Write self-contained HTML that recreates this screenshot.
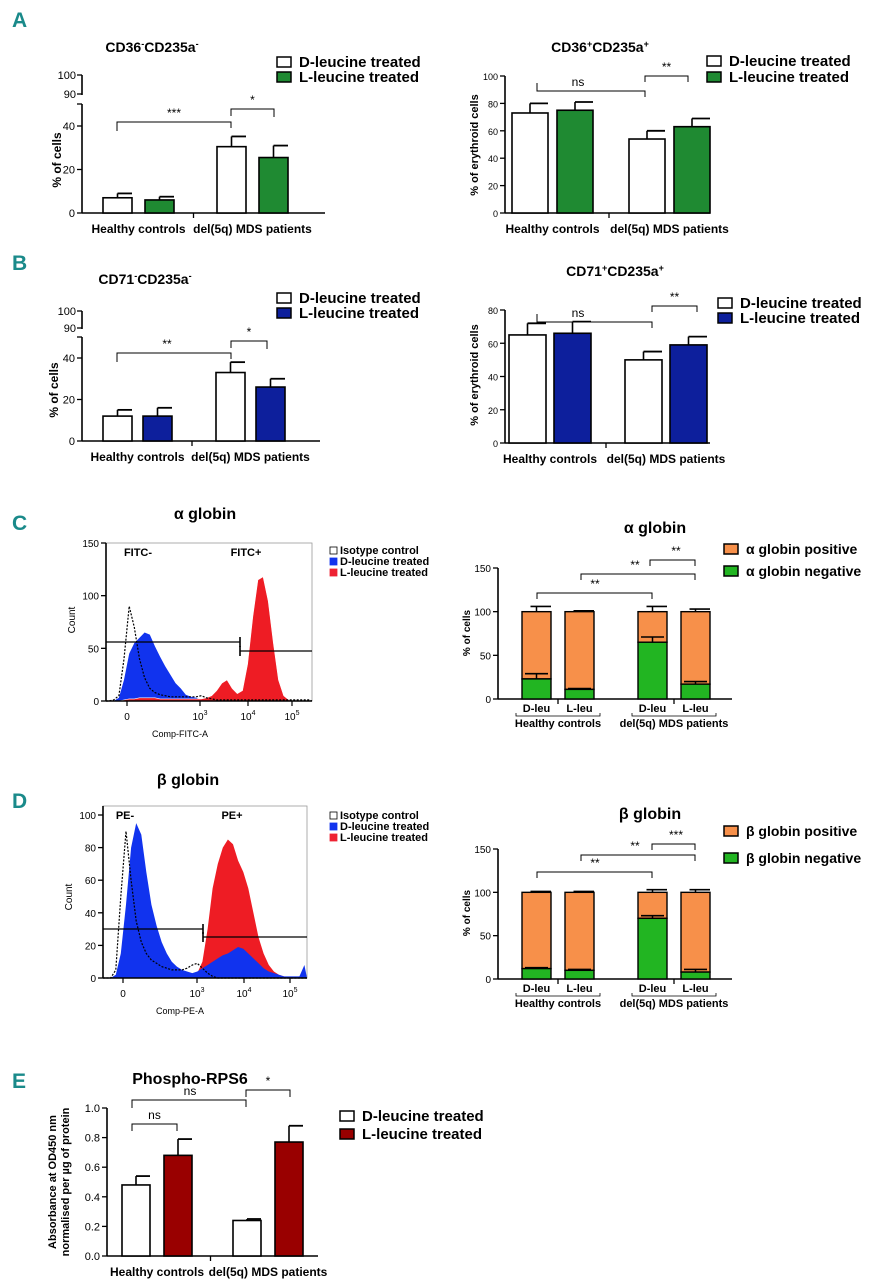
<!DOCTYPE html>
<html><head><meta charset="utf-8"><style>
html,body{margin:0;padding:0;background:#fff;}
svg{display:block;font-family:"Liberation Sans",Arial,sans-serif;}
.b{font-weight:bold;}
</style></head><body>
<svg id="fig" width="877" height="1280" viewBox="0 0 877 1280" xmlns="http://www.w3.org/2000/svg">
<g font-family="Liberation Sans Narrow, Liberation Sans, sans-serif" font-weight="bold" fill="#1a8a8a" font-size="21">
<text x="12" y="27">A</text>
<text x="12" y="270">B</text>
<text x="12" y="530">C</text>
<text x="12" y="808">D</text>
<text x="12" y="1088">E</text>
</g>
<g id="root"></g>
</svg>
<script>
// ---- data ----
const groups = ["Healthy controls", "del(5q) MDS patients"];
const aLeftVals = [[7, 6], [30.5, 25.5]];
const aLeftErr = [[9, 7.5], [35.2, 31]];
const aRightVals = [[73, 75], [54, 63]];
const aRightErr = [[80, 81], [60, 69]];
const bLeftVals = [[12, 12], [33, 26]];
const bLeftErr = [[15, 16], [38, 30]];
const bRightVals = [[65, 66], [50, 59]];
const bRightErr = [[72, 73], [55, 64]];
const alphaNeg = [23, 11, 65, 17];
const alphaNegErr = [29, 12, 71, 20];
const alphaPosErr = [106, 101, 106, 103];
const betaNeg = [12, 10, 70, 8];
const betaNegErr = [13, 11, 73, 11];
const betaPosErr = [101, 101, 103, 103];
const rpsVals = [[0.48, 0.68], [0.24, 0.77]];
const rpsErr = [[0.54, 0.79], [0.25, 0.88]];
const cBlue = [0,0,3,20,45,55,60,65,63,52,42,33,25,17,12,6,4,3,1,0,0,0,0,0,0,0,0,0,0,0,0,0,0,0,0,0,0,0,0,0];
const cRed = [0,0,0,1,2,2,3,3,3,3,2,2,2,2,2,2,2,2,2,3,5,10,17,20,12,7,10,35,80,115,118,95,55,20,5,1,0,0,0,0];
const cIso = [0,1,5,40,90,70,40,22,12,8,6,5,4,4,4,4,4,4,5,3,2,1,1,1,1,1,1,1,1,1,1,1,1,1,1,1,1,1,1,1];
const dBlue = [0,0,2,15,45,80,95,88,65,45,32,22,15,10,7,5,4,3,4,6,8,10,12,14,15,17,19,18,15,12,9,6,4,3,2,1,1,1,1,8];
const dRed = [0,0,0,0,0,0,0,0,0,0,0,0,0,0,0,0,0,1,3,10,30,55,70,80,85,82,72,65,55,40,25,15,8,4,2,1,0,0,0,0];
const dIso = [0,0,5,50,90,60,35,22,15,11,9,7,6,5,5,5,6,8,9,6,3,1,0,0,0,0,0,0,0,0,0,0,0,0,0,0,0,0,0,0];

const NS = "http://www.w3.org/2000/svg";
const root = document.getElementById('root');
function el(tag, attrs, parent, txt) {
  const e = document.createElementNS(NS, tag);
  for (const k in attrs) e.setAttribute(k, attrs[k]);
  if (txt !== undefined) e.textContent = txt;
  (parent || root).appendChild(e);
  return e;
}
function txt(x, y, s, size, anchor, parent, bold, name) {
  const t = el('text', {x: x, y: y, 'font-size': size, 'text-anchor': anchor || 'start', 'font-weight': bold === false ? 'normal' : 'bold'}, parent, s);
  
  
  return t;
}
function line(x1, y1, x2, y2, parent, w) {
  return el('line', {x1: x1, y1: y1, x2: x2, y2: y2, stroke: '#000', 'stroke-width': w || 1.3}, parent);
}
function yAxis(g, ax, y0, ppu, top, ticks, labels, fs) {
  line(ax, y0, ax, top, g, 1.6);
  ticks.forEach((t, i) => {
    const y = y0 - t * ppu;
    line(ax - 5, y, ax, y, g, 1.3);
    txt(ax - 7, y + 4, labels[i], fs || 11, 'end', g, false, 'y-tick-label');
  });
}
function bracket(g, x1, x2, y, d1, d2, label, lx) {
  el('polyline', {points: `${x1},${y + d1} ${x1},${y} ${x2},${y} ${x2},${y + d2}`, fill: 'none', stroke: '#000', 'stroke-width': 1}, g);
  txt(lx !== undefined ? lx : (x1 + x2) / 2, y - 5, label, 12, 'middle', g, false, 'significance-label');
}
function legendBars(g, x, y, gap, labels, fills, fs) {
  labels.forEach((l, i) => {
    const r = el('rect', {x: x, y: y + i * gap, width: 14, height: 10, fill: fills[i], stroke: '#000', 'stroke-width': 1.5}, g);
    
    
    txt(x + 22, y + i * gap + 10, l, fs || 15, 'start', g, true, 'legend-entry');
  });
}
function groupedBars(g, o, vals, errs) {
  // baseline
  line(o.ax, o.y0, o.xEnd, o.y0, g, 1.6);
  line(o.gx + o.gg - (o.gg - o.bg - o.bw) / 2 - 2, o.y0, o.gx + o.gg - (o.gg - o.bg - o.bw) / 2 - 2, o.y0 + 5, g, 1.3);
  vals.forEach((pair, gi) => {
    pair.forEach((v, j) => {
      const x = o.gx + gi * o.gg + j * o.bg;
      const cx = x + o.bw / 2;
      const ey = o.y0 - errs[gi][j] * o.ppu;
      line(cx, o.y0 - v * o.ppu, cx, ey, g, 1.6);
      line(cx, ey, x + o.bw, ey, g, 1.8);
      const r = el('rect', {x: x, y: o.y0 - v * o.ppu, width: o.bw, height: v * o.ppu, fill: o.colors[j], stroke: '#000', 'stroke-width': 1.6}, g);
      
      
    });
    const center = o.gx + gi * o.gg + (o.bg + o.bw) / 2;
    txt(center, o.y0 + 20, groups[gi], 12, 'middle', g, true, 'x-category-label');
  });
}
function stacked(g, o, neg, negErr, posErr, legendLabels) {
  line(o.ax, o.y0, o.xEnd, o.y0, g, 1.6);
  const cats = ['D-leu', 'L-leu', 'D-leu', 'L-leu'];
  neg.forEach((v, i) => {
    const gi = Math.floor(i / 2), j = i % 2;
    const x = o.gx + gi * o.gg + j * o.bg;
    const cx = x + o.bw / 2;
    const py = o.y0 - posErr[i] * o.ppu;
    line(cx, o.y0 - 100 * o.ppu, cx, py, g, 1.5);
    line(cx - 6, py, x + o.bw, py, g, 1.6);
    const rp = el('rect', {x: x, y: o.y0 - 100 * o.ppu, width: o.bw, height: (100 - v) * o.ppu, fill: '#f7904a', stroke: '#000', 'stroke-width': 1.4}, g);
    
    
    const rn = el('rect', {x: x, y: o.y0 - v * o.ppu, width: o.bw, height: v * o.ppu, fill: '#22b522', stroke: '#000', 'stroke-width': 1.4}, g);
    
    
    const ny = o.y0 - negErr[i] * o.ppu;
    line(cx, o.y0 - v * o.ppu, cx, ny, g, 1.5);
    line(x + 3, ny, x + o.bw - 3, ny, g, 1.6);
    txt(cx, o.y0 + 13, cats[i], 11, 'middle', g, true, 'x-category-label');
    if (j === 0) {
      const x2 = x + o.bg + o.bw;
      el('polyline', {points: `${x - 6},${o.y0 + 14} ${x - 6},${o.y0 + 17} ${x2 + 6},${o.y0 + 17} ${x2 + 6},${o.y0 + 14}`, fill: 'none', stroke: '#000', 'stroke-width': 0.8}, g);
      txt((x + x2) / 2, o.y0 + 28, groups[gi], 11, 'middle', g, true, 'x-group-label');
    }
  });
  line(o.gx + o.bw + (o.bg - o.bw) / 2, o.y0, o.gx + o.bw + (o.bg - o.bw) / 2, o.y0 + 5, g, 1.3);
  line(o.gx + o.gg + o.bw + (o.bg - o.bw) / 2, o.y0, o.gx + o.gg + o.bw + (o.bg - o.bw) / 2, o.y0 + 5, g, 1.3);
}
function histArea(g, o, counts, style, name) {
  const n = counts.length, bw = (o.x1 - o.x0) / n;
  let d = `M${o.x0},${o.y0}`;
  counts.forEach((c, i) => { d += ` L${(o.x0 + bw * (i + 0.5)).toFixed(1)},${(o.y0 - c * o.ppu).toFixed(1)}`; });
  d += ` L${o.x1},${o.y0}` + (style.fill !== 'none' ? ' Z' : '');
  const p = el('path', Object.assign({d: d}, style), g);
  
  
}
function histogram(g, o, layers, yt, yl, xt) {
  el('rect', {x: o.x0, y: o.top, width: o.x1 - o.x0, height: o.y0 - o.top, fill: 'none', stroke: '#999', 'stroke-width': 0.8}, g);
  layers.forEach(L => histArea(g, o, L[0], L[1], L[2]));
  yAxis(g, o.x0, o.y0, o.ppu, o.top, yt, yl, 10);
  line(o.x0, o.y0, o.x1, o.y0, g, 1.4);
  xt.forEach(t => {
    line(t[0], o.y0, t[0], o.y0 + 5, g, 1.2);
    const tt = txt(t[0], o.y0 + 19, t[1], 10, 'middle', g, false, 'x-tick-label');
    if (t[2]) el('tspan', {dy: -5, 'font-size': 7}, tt, t[2]);
  });
}
function histLegend(g, x, y) {
  const items = [['Isotype control', '#fff'], ['D-leucine treated', '#1133ee'], ['L-leucine treated', '#ee2233']];
  items.forEach((it, i) => {
    const r = el('rect', {x: x, y: y + i * 11 - 7, width: 7, height: 7, fill: it[1], stroke: i ? it[1] : '#000', 'stroke-width': 0.8}, g);
    
    
    txt(x + 10, y + i * 11, it[0], 11, 'start', g, true, 'legend-entry');
  });
}
function yTitle(g, x, y, s, fs) {
  const t = txt(0, 0, s, fs || 11, 'middle', g, true, 'y-axis-title');
  t.setAttribute('transform', `translate(${x},${y}) rotate(-90)`);
}
function mk(name) {
  const g = el('g', {});
  
  
  return g;
}

// ---- Panel A left ----
let g = mk('chart-cd36neg');
txt(152, 52, 'CD36', 14, 'middle', g);
g.lastChild.textContent = '';
{ const t = g.lastChild; t.textContent = 'CD36'; el('tspan', {dy: -5, 'font-size': 9}, t, '-'); el('tspan', {dy: 5}, t, 'CD235a'); el('tspan', {dy: -5, 'font-size': 9}, t, '-'); }
line(82, 75, 82, 95, g, 1.6); line(77, 75, 82, 75, g); line(77, 94, 82, 94, g);
txt(76, 79, '100', 11, 'end', g, false, 'y-tick-label'); txt(76, 98, '90', 11, 'end', g, false, 'y-tick-label');
yAxis(g, 82, 213, 2.175, 104, [0, 20, 40], ['0', '20', '40']); line(77, 104, 82, 104, g);
groupedBars(g, {ax: 82, y0: 213, ppu: 2.175, gx: 103, gg: 114, bg: 42, bw: 29, xEnd: 325, colors: ['#fff', '#1f8a32']}, aLeftVals, aLeftErr);
yTitle(g, 61, 160, '% of cells', 12);
bracket(g, 117, 231, 122, 9, 6, '***', 174);
bracket(g, 231, 274, 109, 7, 8, '*');
legendBars(g, 277, 57, 15, ['D-leucine treated', 'L-leucine treated'], ['#fff', '#1f8a32']);

// ---- Panel A right ----
g = mk('chart-cd36pos');
{ const t = txt(600, 52, 'CD36', 14, 'middle', g); el('tspan', {dy: -5, 'font-size': 9}, t, '+'); el('tspan', {dy: 5}, t, 'CD235a'); el('tspan', {dy: -5, 'font-size': 9}, t, '+'); }
yAxis(g, 505, 213, 1.37, 76, [0, 20, 40, 60, 80, 100], ['0', '20', '40', '60', '80', '100'], 9);
groupedBars(g, {ax: 505, y0: 213, ppu: 1.37, gx: 512, gg: 117, bg: 45, bw: 36, xEnd: 710, colors: ['#fff', '#1f8a32']}, aRightVals, aRightErr);
yTitle(g, 478, 145, '% of erythroid cells', 11);
bracket(g, 537, 645, 91, -8, 6, 'ns', 578);
bracket(g, 645, 688, 76, 6, 6, '**');
legendBars(g, 707, 56, 16, ['D-leucine treated', 'L-leucine treated'], ['#fff', '#1f8a32']);

// ---- Panel B left ----
g = mk('chart-cd71neg');
{ const t = txt(145, 284, 'CD71', 14, 'middle', g); el('tspan', {dy: -5, 'font-size': 9}, t, '-'); el('tspan', {dy: 5}, t, 'CD235a'); el('tspan', {dy: -5, 'font-size': 9}, t, '-'); }
line(82, 311, 82, 329, g, 1.6); line(77, 311, 82, 311, g); line(77, 328, 82, 328, g);
txt(76, 315, '100', 11, 'end', g, false, 'y-tick-label'); txt(76, 332, '90', 11, 'end', g, false, 'y-tick-label');
yAxis(g, 82, 441, 2.075, 337, [0, 20, 40], ['0', '20', '40']); line(77, 337, 82, 337, g);
groupedBars(g, {ax: 82, y0: 441, ppu: 2.075, gx: 103, gg: 113, bg: 40, bw: 29, xEnd: 320, colors: ['#fff', '#0d1f9c']}, bLeftVals, bLeftErr);
yTitle(g, 58, 390, '% of cells', 12);
bracket(g, 117, 231, 353, 9, 6, '**', 167);
bracket(g, 231, 267, 341, 7, 8, '*');
legendBars(g, 277, 293, 15, ['D-leucine treated', 'L-leucine treated'], ['#fff', '#0d1f9c']);

// ---- Panel B right ----
g = mk('chart-cd71pos');
{ const t = txt(615, 276, 'CD71', 14, 'middle', g); el('tspan', {dy: -5, 'font-size': 9}, t, '+'); el('tspan', {dy: 5}, t, 'CD235a'); el('tspan', {dy: -5, 'font-size': 9}, t, '+'); }
yAxis(g, 505, 443, 1.6625, 310, [0, 20, 40, 60, 80], ['0', '20', '40', '60', '80'], 9);
groupedBars(g, {ax: 505, y0: 443, ppu: 1.6625, gx: 509, gg: 116, bg: 45, bw: 37, xEnd: 710, colors: ['#fff', '#0d1f9c']}, bRightVals, bRightErr);
yTitle(g, 478, 375, '% of erythroid cells', 11);
bracket(g, 537, 652, 322, -8, 6, 'ns', 578);
bracket(g, 652, 697, 306, 6, 6, '**');
legendBars(g, 718, 298, 15, ['D-leucine treated', 'L-leucine treated'], ['#fff', '#0d1f9c']);

// ---- Panel C histogram ----
g = mk('histogram-alpha');
txt(205, 519, 'α globin', 16, 'middle', g);
histogram(g, {x0: 106, x1: 312, y0: 701, top: 543, ppu: 158 / 150}, [
  [cBlue, {fill: '#1133ee', stroke: 'none'}, 'series-d-leucine'],
  [cRed, {fill: '#ee1c24', stroke: '#fff', 'stroke-width': 0.6}, 'series-l-leucine'],
  [cIso, {fill: 'none', stroke: '#000', 'stroke-width': 1.2, 'stroke-dasharray': '2,1.5'}, 'series-isotype']
], [0, 50, 100, 150], ['0', '50', '100', '150'], [[127, '0'], [200, '10', '3'], [248, '10', '4'], [292, '10', '5']]);
line(106, 642, 240, 642, g, 1.3); line(240, 637, 240, 647, g, 1.6);
line(240, 651, 312, 651, g, 1.3); line(240, 646, 240, 656, g, 1.6);
txt(138, 556, 'FITC-', 11, 'middle', g); txt(246, 556, 'FITC+', 11, 'middle', g);
txt(180, 737, 'Comp-FITC-A', 9, 'middle', g, false, 'x-axis-title');
{ const t = txt(0, 0, 'Count', 10, 'middle', g, false, 'y-axis-title'); t.setAttribute('transform', 'translate(75,620) rotate(-90)'); }
histLegend(g, 330, 554);

// ---- Panel C stacked ----
g = mk('stacked-alpha');
txt(655, 533, 'α globin', 16, 'middle', g);
yAxis(g, 498, 699, 131 / 150, 568, [0, 50, 100, 150], ['0', '50', '100', '150'], 10);
stacked(g, {ax: 498, y0: 699, ppu: 131 / 150, gx: 522, gg: 116, bg: 43, bw: 29, xEnd: 732}, alphaNeg, alphaNegErr, alphaPosErr);
yTitle(g, 470, 633, '% of cells', 10);
bracket(g, 537, 652, 593, 6, 6, '**', 595);
bracket(g, 581, 695, 574, 6, 6, '**', 635);
bracket(g, 650, 695, 560, 6, 6, '**', 676);
legendBars(g, 724, 544, 22, ['α globin positive', 'α globin negative'], ['#f7904a', '#22b522'], 14);

// ---- Panel D histogram ----
g = mk('histogram-beta');
txt(188, 785, 'β globin', 16, 'middle', g);
histogram(g, {x0: 103, x1: 307, y0: 978, top: 806, ppu: 163 / 100}, [
  [dRed, {fill: '#ee1c24', stroke: 'none'}, 'series-l-leucine'],
  [dBlue, {fill: '#1133ee', stroke: 'none'}, 'series-d-leucine'],
  [dIso, {fill: 'none', stroke: '#000', 'stroke-width': 1.2, 'stroke-dasharray': '2,1.5'}, 'series-isotype']
], [0, 20, 40, 60, 80, 100], ['0', '20', '40', '60', '80', '100'], [[123, '0'], [197, '10', '3'], [244, '10', '4'], [290, '10', '5']]);
line(103, 929, 203, 929, g, 1.3); line(203, 924, 203, 934, g, 1.6);
line(203, 937, 307, 937, g, 1.3); line(203, 932, 203, 942, g, 1.6);
txt(125, 819, 'PE-', 11, 'middle', g); txt(232, 819, 'PE+', 11, 'middle', g);
txt(180, 1014, 'Comp-PE-A', 9, 'middle', g, false, 'x-axis-title');
{ const t = txt(0, 0, 'Count', 10, 'middle', g, false, 'y-axis-title'); t.setAttribute('transform', 'translate(72,897) rotate(-90)'); }
histLegend(g, 330, 819);

// ---- Panel D stacked ----
g = mk('stacked-beta');
txt(650, 819, 'β globin', 16, 'middle', g);
yAxis(g, 498, 979, 130 / 150, 849, [0, 50, 100, 150], ['0', '50', '100', '150'], 10);
stacked(g, {ax: 498, y0: 979, ppu: 130 / 150, gx: 522, gg: 116, bg: 43, bw: 29, xEnd: 732}, betaNeg, betaNegErr, betaPosErr);
yTitle(g, 470, 913, '% of cells', 10);
bracket(g, 537, 652, 872, 6, 6, '**', 595);
bracket(g, 581, 695, 855, 6, 6, '**', 635);
bracket(g, 652, 695, 844, 6, 6, '***', 676);
legendBars(g, 724, 826, 27, ['β globin positive', 'β globin negative'], ['#f7904a', '#22b522'], 14);

// ---- Panel E ----
g = mk('chart-phospho-rps6');
txt(190, 1084, 'Phospho-RPS6', 16, 'middle', g);
yAxis(g, 107, 1256, 148, 1108, [0, 0.2, 0.4, 0.6, 0.8, 1.0], ['0.0', '0.2', '0.4', '0.6', '0.8', '1.0'], 11);
groupedBars(g, {ax: 107, y0: 1256, ppu: 148, gx: 122, gg: 111, bg: 42, bw: 28, xEnd: 318, colors: ['#fff', '#990000']}, rpsVals, rpsErr);
yTitle(g, 56, 1182, 'Absorbance at OD450 nm', 11);
yTitle(g, 69, 1182, 'normalised per µg of protein', 11);
bracket(g, 132, 177, 1124, 7, 7, 'ns');
bracket(g, 132, 246, 1100, 8, 7, 'ns', 190);
bracket(g, 246, 290, 1090, 7, 7, '*', 268);
legendBars(g, 340, 1111, 18, ['D-leucine treated', 'L-leucine treated'], ['#fff', '#990000']);
</script>
</body></html>
